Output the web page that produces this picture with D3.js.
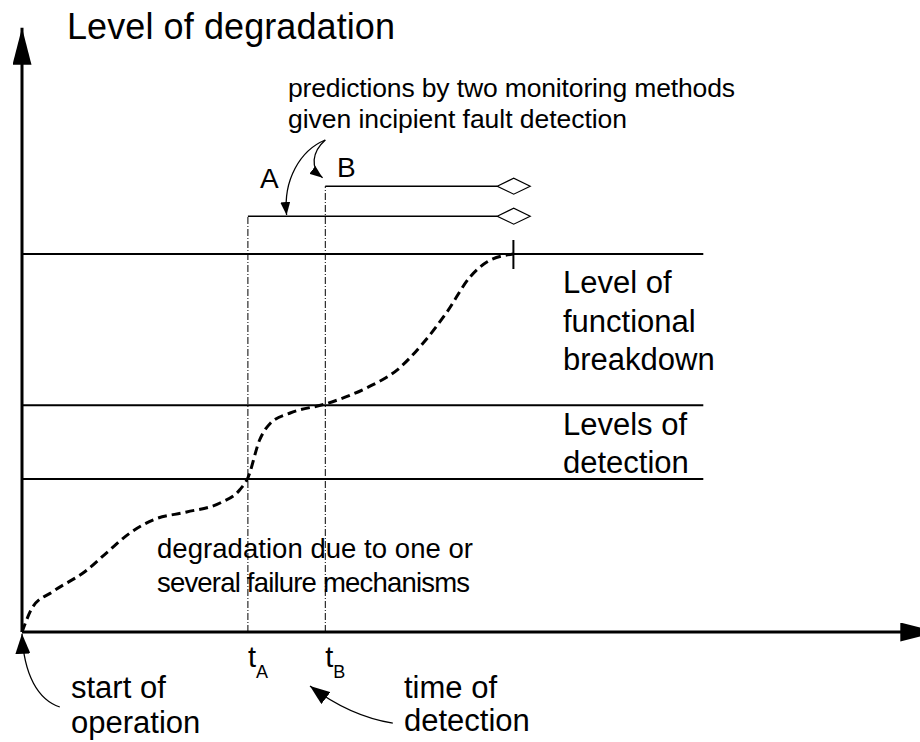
<!DOCTYPE html>
<html>
<head>
<meta charset="utf-8">
<script src="https://cdn.jsdelivr.net/npm/d3@7"></script>
<style>
  body { margin: 0; background: #fff; }
  svg { display: block; }
  text { font-family: "Liberation Sans", Arial, sans-serif; fill: #000; }
</style>
</head>
<body>
<svg id="chart" width="920" height="742"></svg>
<script>
/*
**************************** DATA ****************************
*/
// degradation path (time, level)
var curveTime  = [0, 0.1, 1.2, 3.4, 7.2, 9.4, 12, 14.6, 18.3, 22, 24.2, 25.1, 26.4, 27.6, 29.8, 33.7, 38.3, 41.7, 44.6, 47.2, 49.8, 51.7, 54.6];
var curveLevel = [0, 0.4, 4.2, 6.7, 10.3, 13.2, 16.5, 18.7, 20, 21.5, 23.7, 25.7, 32, 34.8, 36.5, 38, 40.7, 43.7, 48.2, 53.3, 59.2, 61.7, 63];

// horizontal levels
var levelNames  = ["breakdown", "detectionHigh", "detectionLow"];
var levelValues = [63, 37.8, 25.5];
var levelEnd = 75.7;

// detection times and predicted failure
var detectNames = ["A", "B"];
var detectTimes = [25.1, 33.7];
var predictLevels = [69.3, 74.3];
var predictTime = 52.8;
var failureTime = 54.6;

/*
**************************** SETUP ****************************
*/
var svg = d3.select("#chart"),
    width = +svg.attr("width"),
    height = +svg.attr("height");

var x = d3.scaleLinear().domain([0, 100]).range([22, 922]);
var y = d3.scaleLinear().domain([0, 100]).range([632, 32]);

// arrow heads
var defs = svg.append("defs");
function marker(id, len, wid) {
    defs.append("marker")
        .attr("id", id)
        .attr("markerUnits", "userSpaceOnUse")
        .attr("markerWidth", len)
        .attr("markerHeight", wid)
        .attr("refX", len)
        .attr("refY", wid / 2)
        .attr("orient", "auto")
        .append("path")
        .attr("d", "M0,0L" + len + "," + (wid / 2) + "L0," + wid + "Z")
        .attr("fill", "#000");
}
marker("axisHead", 37, 19);
marker("bigHead", 20, 15);
marker("smallHead", 13, 10);

/*
**************************** AXES ****************************
*/
svg.append("line")
    .attr("x1", x(0)).attr("y1", y(0))
    .attr("x2", x(0)).attr("y2", y(100.7))
    .attr("stroke", "#000").attr("stroke-width", 3)
    .attr("marker-end", "url(#axisHead)");

svg.append("line")
    .attr("x1", x(0)).attr("y1", y(0))
    .attr("x2", x(101.7)).attr("y2", y(0))
    .attr("stroke", "#000").attr("stroke-width", 3)
    .attr("marker-end", "url(#axisHead)");

svg.append("text")
    .attr("x", 67).attr("y", 39)
    .style("font-size", "36px")
    .attr("textLength", 328)
    .text("Level of degradation");

/*
**************************** LEVELS ****************************
*/
svg.selectAll(".level")
    .data(levelValues)
    .enter().append("line")
    .attr("class", "level")
    .attr("x1", x(0)).attr("x2", x(levelEnd))
    .attr("y1", function (d) { return y(d); })
    .attr("y2", function (d) { return y(d); })
    .attr("stroke", "#000").attr("stroke-width", 2);

// vertical dash-dot lines at detection times
svg.selectAll(".vline")
    .data(detectTimes)
    .enter().append("line")
    .attr("class", "vline")
    .attr("x1", function (d) { return x(d); })
    .attr("x2", function (d) { return x(d); })
    .attr("y1", y(0))
    .attr("y2", function (d, i) { return y(predictLevels[i]); })
    .attr("stroke", "#000").attr("stroke-width", 1)
    .attr("stroke-dasharray", "7,2,1,2");

// prediction lines with hollow diamonds
svg.selectAll(".pred")
    .data(detectTimes)
    .enter().append("line")
    .attr("class", "pred")
    .attr("x1", function (d) { return x(d); })
    .attr("x2", x(predictTime))
    .attr("y1", function (d, i) { return y(predictLevels[i]); })
    .attr("y2", function (d, i) { return y(predictLevels[i]); })
    .attr("stroke", "#000").attr("stroke-width", 1.5);

svg.selectAll(".diamond")
    .data(predictLevels)
    .enter().append("path")
    .attr("class", "diamond")
    .attr("transform", function (d) { return "translate(" + x(predictTime) + "," + y(d) + ")"; })
    .attr("d", "M0,0L16.5,-8L33,0L16.5,8Z")
    .attr("fill", "#fff").attr("stroke", "#000").attr("stroke-width", 1.2);

// failure tick
svg.append("line")
    .attr("x1", x(failureTime)).attr("x2", x(failureTime))
    .attr("y1", y(levelValues[0]) - 14).attr("y2", y(levelValues[0]) + 15)
    .attr("stroke", "#000").attr("stroke-width", 2);

/*
**************************** DEGRADATION CURVE ****************************
*/
var curvePts = curveTime.map(function (t, i) { return [t, curveLevel[i]]; });
var line = d3.line()
    .x(function (d) { return x(d[0]); })
    .y(function (d) { return y(d[1]); })
    .curve(d3.curveMonotoneX);

svg.append("path")
    .datum(curvePts)
    .attr("d", line)
    .attr("fill", "none")
    .attr("stroke", "#000").attr("stroke-width", 3)
    .attr("stroke-dasharray", "9,5");

/*
**************************** ANNOTATIONS ****************************
*/
// bezier arrows in data units: start, c1, c2, end
function bez(p, head) {
    var pth = d3.path();
    pth.moveTo(x(p[0][0]), y(p[0][1]));
    pth.bezierCurveTo(x(p[1][0]), y(p[1][1]), x(p[2][0]), y(p[2][1]), x(p[3][0]), y(p[3][1]));
    svg.append("path")
        .attr("d", pth.toString())
        .attr("fill", "none")
        .attr("stroke", "#000").attr("stroke-width", 1.3)
        .attr("marker-end", "url(#" + head + ")");
}
bez([[33.7, 82], [30.9, 80.3], [29, 75.3], [29.4, 69.5]], "smallHead");
bez([[33.7, 82], [32.2, 80], [32, 77.3], [33.4, 75.7]], "smallHead");
bez([[4.2, -12.5], [1.8, -11.3], [0.2, -7.2], [0, -0.3]], "bigHead");
bez([[41.2, -15.2], [37.6, -14.3], [34.8, -12.2], [32, -9]], "bigHead");

function label(lines, px, py, size, lh, lens) {
    var t = svg.append("text").attr("x", px).attr("y", py).style("font-size", size + "px");
    lines.forEach(function (s, i) {
        var sp = t.append("tspan").attr("x", px).attr("y", py + i * lh).text(s);
        if (lens) sp.attr("textLength", lens[i]);
    });
}
label(["predictions by two monitoring methods", "given incipient fault detection"], 288, 97, 26.5, 31, [447, 339]);
label(["degradation due to one or", "several failure mechanisms"], 157, 558, 27.5, 34, [316, 313]);
label(["Level of", "functional", "breakdown"], 563, 293, 31, 38.5);
label(["Levels of", "detection"], 563, 435, 31, 38);
label(["start of", "operation"], 71, 698, 31, 35);
label(["time of", "detection"], 404, 698, 31, 33);

label(["A"], 260, 188, 28, 0);
label(["B"], 337, 177, 28, 0);

// t_A, t_B
svg.selectAll(".tlab")
    .data(detectTimes)
    .enter().append("text")
    .attr("class", "tlab")
    .attr("x", function (d) { return x(d); })
    .attr("y", 667)
    .style("font-size", "29px")
    .text("t")
    .append("tspan")
    .attr("dy", 11)
    .style("font-size", "18px")
    .text(function (d, i) { return detectNames[i]; });
</script>
</body>
</html>
